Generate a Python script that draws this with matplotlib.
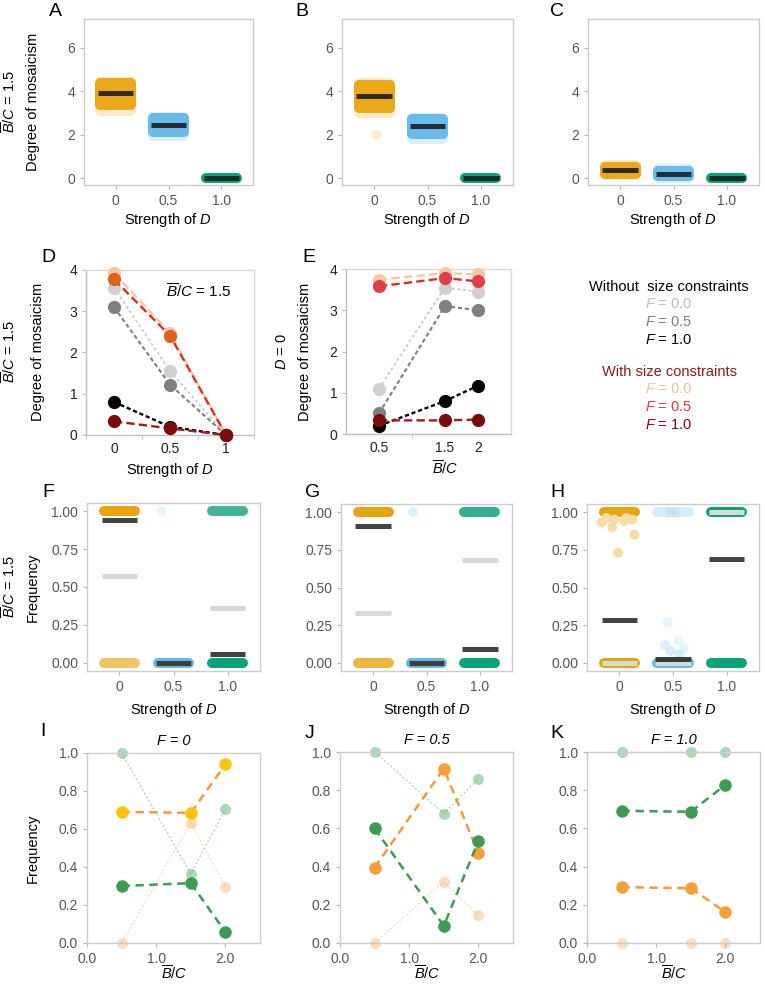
import matplotlib
matplotlib.use('Agg')
import matplotlib.pyplot as plt
from matplotlib.patches import Rectangle
from matplotlib.colors import to_rgb

plt.rcParams['font.family'] = ['Liberation Sans', 'DejaVu Sans']
plt.rcParams['mathtext.fontset'] = 'custom'
plt.rcParams['mathtext.rm'] = 'Liberation Sans'
plt.rcParams['mathtext.it'] = 'Liberation Sans:italic'
plt.rcParams['lines.scale_dashes'] = False

W, H, DPI = 765, 985, 100

# ---------------- data ----------------
d_labels = ['0', '0.5', '1.0']
cat_colors = ['#E69F00', '#56B4E9', '#009E73']

# A-C: degree of mosaicism clouds (per strength of D)
A_mid = [3.9, 2.45, 0.0]
A_lo = [3.35, 2.12, 0.0]
A_hi = [4.37, 2.75, 0.0]
A_flo = [3.1, 1.92, 0.0]
A_fhi = [4.42, 2.8, 0.0]

B_mid = [3.78, 2.4, 0.0]
B_lo = [3.25, 2.05, 0.0]
B_hi = [4.3, 2.72, 0.0]
B_flo = [3.0, 1.8, 0.0]
B_fhi = [4.36, 2.77, 0.0]
B_out_cat = [0]
B_out_val = [2.0]

C_mid = [0.35, 0.2, 0.0]
C_lo = [0.2, 0.08, 0.0]
C_hi = [0.52, 0.32, 0.0]
C_flo = [0.14, 0.02, 0.0]
C_fhi = [0.6, 0.42, 0.0]

# D: mosaicism vs strength of D (B/C = 1.5)
D_x = [0, 0.5, 1]
D_nw0 = [3.57, 1.55, 0.0]
D_nw5 = [3.1, 1.22, 0.0]
D_nw1 = [0.8, 0.2, 0.0]
D_w0 = [3.93, 2.47, 0.0]
D_w5 = [3.77, 2.41, 0.0]
D_w1 = [0.33, 0.16, 0.0]

# E: mosaicism vs B/C (D = 0)
E_x = [0.5, 1.5, 2.0]
E_nw0 = [1.1, 3.55, 3.45]
E_nw5 = [0.5, 3.1, 3.0]
E_nw1 = [0.2, 0.8, 1.17]
E_w0 = [3.74, 3.9, 3.87]
E_w5 = [3.58, 3.78, 3.7]
E_w1 = [0.33, 0.33, 0.35]

# F-H: frequency strips (category, value, intensity)
F_strip_cat = [0, 0, 1, 2, 2]
F_strip_val = [1.0, 0.0, 0.0, 1.0, 0.0]
F_strip_int = [0.95, 0.6, 0.95, 0.75, 0.95]
F_dot_cat = [1]
F_dot_val = [1.0]
F_light = [0.57, 0.0, 0.36]
F_dark = [0.94, 0.0, 0.06]

G_strip_cat = [0, 0, 1, 2, 2]
G_strip_val = [1.0, 0.0, 0.0, 1.0, 0.0]
G_strip_int = [0.95, 0.75, 0.95, 0.8, 0.95]
G_dot_cat = [1]
G_dot_val = [1.0]
G_light = [0.33, 0.0, 0.68]
G_dark = [0.91, 0.0, 0.09]

H_strip_cat = [0, 0, 1, 1, 2, 2]
H_strip_val = [1.0, 0.0, 1.0, 0.0, 1.0, 0.0]
H_strip_int = [0.95, 0.95, 0.25, 0.95, 0.95, 0.95]
H_dot_cat = [0, 0, 0, 0, 0, 0, 0, 0, 0, 1, 1, 1, 1, 1, 1, 1, 1]
H_dot_val = [0.93, 0.96, 0.90, 0.95, 0.94, 0.96, 0.95, 0.85, 0.73,
             1.0, 1.0, 0.27, 0.15, 0.12, 0.10, 0.08, 0.06]
H_light = [0.0, 0.0, 1.0]
H_dark = [0.283, 0.025, 0.687]

# I-K: frequencies vs B/C
bc = [0.5, 1.5, 2.0]
I_orange = [0.69, 0.685, 0.94]
I_green = [0.30, 0.315, 0.058]
I_lgreen = [1.0, 0.364, 0.705]
I_lorange = [0.0, 0.633, 0.297]

J_orange = [0.395, 0.913, 0.47]
J_green = [0.60, 0.09, 0.534]
J_lgreen = [1.0, 0.678, 0.86]
J_lorange = [0.0, 0.32, 0.144]

K_orange = [0.292, 0.287, 0.162]
K_green = [0.692, 0.687, 0.828]
K_lgreen = [1.0, 1.0, 1.0]
K_lorange = [0.0, 0.0, 0.0]

# ---------------- layout offsets (jitter positions) ----------------
B_out_off = [0.05]
F_dot_off = [-0.22]
G_dot_off = [-0.25]
H_dot_off = [-0.33, -0.24, -0.13, -0.09, 0.09, 0.13, 0.24, 0.28, -0.02,
             -0.05, 0.03, -0.1, 0.1, -0.15, 0.2, -0.05, 0.12]
H_dot_int = [0.35] * 9 + [0.35, 0.35, 0.15, 0.15, 0.2, 0.15, 0.25, 0.25]


def mix(c, a):
    r = to_rgb(c)
    return tuple(1 - (1 - v) * a for v in r)


def px(n):
    return n * 72.0 / DPI


fig = plt.figure(figsize=(W / DPI, H / DPI), dpi=DPI)


def axrect(x0, y0, x1, y1):
    return fig.add_axes([x0 / W, 1 - y1 / H, (x1 - x0) / W, (y1 - y0) / H])


def ftext(x, y, s, **kw):
    kw.setdefault('ha', 'center')
    kw.setdefault('va', 'center')
    fig.text(x / W, 1 - y / H, s, **kw)


def style_gg(ax):
    for s in ax.spines.values():
        s.set_color('#cccccc')
        s.set_linewidth(1.0)
    ax.tick_params(colors='#b5b5b5', labelcolor='#555555', length=px(4),
                   width=0.8, labelsize=10, pad=3.5)


def xunit_px(ax):
    x0, x1 = ax.get_xlim()
    return ax.get_position().width * W / (x1 - x0)


def band(ax, x, lo, hi, color, strength, halfw=0.29, size_px=10, z=2):
    c = mix(color, strength)
    lw = px(size_px)
    r = (size_px / 2.0) / xunit_px(ax)
    ax.plot([x - halfw, x + halfw], [lo, lo], color=c, lw=lw,
            solid_capstyle='round', zorder=z)
    if hi > lo:
        ax.plot([x - halfw, x + halfw], [hi, hi], color=c, lw=lw,
                solid_capstyle='round', zorder=z)
        ax.add_patch(Rectangle((x - halfw - r, lo), 2 * (halfw + r), hi - lo,
                               facecolor=c, edgecolor='none', zorder=z))


def hbar(ax, x, y, color, halfw=0.34, th_px=5, alpha=1.0, z=5):
    ax.plot([x - halfw, x + halfw], [y, y], color=color, lw=px(th_px),
            solid_capstyle='butt', alpha=alpha, zorder=z)


# ---------------- A-C ----------------
def cloud_panel(rect, mid, lo, hi, flo, fhi, outc=None, outv=None, outo=None):
    ax = axrect(*rect)
    style_gg(ax)
    ax.set_xlim(-0.6, 2.6)
    ax.set_ylim(-0.32, 7.33)
    for i in range(3):
        band(ax, i, flo[i], fhi[i], cat_colors[i], 0.22, z=2)
        band(ax, i, lo[i], hi[i], cat_colors[i], 0.9 if i < 2 else 0.95, z=3)
        hbar(ax, i, mid[i], '#1a1a1a', halfw=0.33, th_px=5, alpha=0.88)
    if outc:
        for c, v, o in zip(outc, outv, outo):
            ax.scatter([c + o], [v], s=px(10) ** 2, color=mix(cat_colors[c], 0.2),
                       edgecolor='none', zorder=2)
    ax.set_yticks([0, 2, 4, 6])
    ax.set_xticks([0, 1, 2])
    ax.set_xticklabels(d_labels)
    return ax


axA = cloud_panel((84, 19, 253, 185), A_mid, A_lo, A_hi, A_flo, A_fhi)
axB = cloud_panel((342, 19, 513, 185), B_mid, B_lo, B_hi, B_flo, B_fhi,
                  B_out_cat, B_out_val, B_out_off)
axC = cloud_panel((588, 19, 759, 185), C_mid, C_lo, C_hi, C_flo, C_fhi)
for x0 in (168, 427, 673):
    ftext(x0, 220, 'Strength of $D$', fontsize=10.5)

ftext(33, 102, 'Degree of mosaicism', rotation=90, fontsize=10.5)
ftext(10, 102, r'$\overline{B}/C$ = 1.5', rotation=90, fontsize=10.5)

# ---------------- D & E ----------------
series_style = {
    'nw0': dict(color='#c8c8c8', mc='#d0d0d0', dashes=(2, 2), lw=1.3),
    'nw5': dict(color='#7f7f7f', mc='#808080', dashes=(3, 2), lw=1.5),
    'nw1': dict(color='#000000', mc='#000000', dashes=(3, 2), lw=1.7),
    'w0': dict(color='#f9c8a2', mc='#f9c8a2', dashes=(6, 3), lw=1.7),
    'w5': dict(color='#e02a2a', mc='#e0404a', dashes=(6, 3), lw=1.7),
    'w1': dict(color='#a01c1c', mc='#7b0a0a', dashes=(6, 3), lw=1.7),
}


def style_xl(ax):
    for s in ax.spines.values():
        s.set_color('#d9d9d9')
        s.set_linewidth(1.0)
    ax.spines['left'].set_color('#bfbfbf')
    ax.spines['bottom'].set_color('#bfbfbf')
    ax.tick_params(colors='#bfbfbf', labelcolor='#222222', length=px(4),
                   width=0.8, labelsize=10)


def line_panel(ax, x, data, mcolors=None):
    for key in ['w0', 'nw0', 'nw5', 'nw1', 'w5', 'w1']:
        st = series_style[key]
        mc = st['mc'] if not mcolors or key not in mcolors else mcolors[key]
        ax.plot(x, data[key], color=st['color'], lw=st['lw'], dashes=st['dashes'],
                marker='o', ms=8.5, mfc=mc, mec=mc, zorder=3, clip_on=False)


axD = axrect(86, 270, 254, 435)
style_xl(axD)
line_panel(axD, D_x, dict(nw0=D_nw0, nw5=D_nw5, nw1=D_nw1, w0=D_w0, w5=D_w5, w1=D_w1),
           mcolors={'w5': '#d8641e'})
axD.set_xlim(-0.25, 1.25)
axD.set_ylim(0, 4)
axD.set_yticks([0, 1, 2, 3, 4])
axD.set_xticks([0, 0.5, 1])
axD.set_xticklabels(['0', '0.5', '1'])
axD.set_xticks([-0.25, 0.25, 0.75, 1.25], minor=True)
axD.tick_params(axis='x', which='major', length=0, pad=5)
axD.tick_params(axis='x', which='minor', length=px(4), color='#bfbfbf')
axD.text(0.67, 0.87, r'$\overline{B}/C$ = 1.5', transform=axD.transAxes,
         fontsize=11, ha='center', va='center')
ftext(170, 470, 'Strength of $D$', fontsize=10.5)
ftext(38, 352, 'Degree of mosaicism', rotation=90, fontsize=10.5)
ftext(10, 352, r'$\overline{B}/C$ = 1.5', rotation=90, fontsize=10.5)

axE = axrect(346, 269, 511, 434)
style_xl(axE)
line_panel(axE, E_x, dict(nw0=E_nw0, nw5=E_nw5, nw1=E_nw1, w0=E_w0, w5=E_w5, w1=E_w1))
axE.set_xlim(0, 2.5)
axE.set_ylim(0, 4)
axE.set_yticks([0, 1, 2, 3, 4])
axE.set_xticks([0.5, 1.5, 2.0])
axE.set_xticklabels(['0.5', '1.5', '2'])
axE.set_xticks([1.0], minor=True)
axE.tick_params(axis='x', which='major', length=0, pad=5)
axE.tick_params(axis='x', which='minor', length=px(4), color='#bfbfbf')
ftext(445, 469, r'$\overline{B}/C$', fontsize=10.5)
ftext(305, 352, 'Degree of mosaicism', rotation=90, fontsize=10.5)
ftext(282, 352, '$D$ = 0', rotation=90, fontsize=10.5)

# legend
leg_items = [
    ('Without  size constraints', '#000000', 287),
    ('$F$ = 0.0', '#bdbdbd', 304),
    ('$F$ = 0.5', '#7f7f7f', 322),
    ('$F$ = 1.0', '#000000', 340),
    ('With size constraints', '#8b1a1a', 372),
    ('$F$ = 0.0', '#f8c19b', 389),
    ('$F$ = 0.5', '#e8363a', 407),
    ('$F$ = 1.0', '#8b0000', 425),
]
for s, c, y in leg_items:
    ftext(669, y, s, color=c, fontsize=10.5)


# ---------------- F-H ----------------
def freq_panel(rect, scat, sval, sint, dcat, dval, doff, dint, light, dark):
    ax = axrect(*rect)
    style_gg(ax)
    ax.set_xlim(-0.6, 2.6)
    ax.set_ylim(-0.053, 1.053)
    for c, v, k in zip(scat, sval, sint):
        band(ax, c, v, v, cat_colors[c], k, z=2)
    for c, v, o, k in zip(dcat, dval, doff, dint):
        ax.scatter([c + o], [v], s=px(10) ** 2, color=mix(cat_colors[c], k),
                   edgecolor='none', zorder=2.5)
    for i in range(3):
        hbar(ax, i, light[i], '#d9d9d9', halfw=0.33, th_px=5, z=4)
    for i in range(3):
        hbar(ax, i, dark[i], '#2e2e2e', halfw=0.33, th_px=5, alpha=0.9, z=5)
    ax.set_yticks([0, 0.25, 0.5, 0.75, 1.0])
    ax.set_yticklabels(['0.00', '0.25', '0.50', '0.75', '1.00'])
    ax.set_xticks([0, 1, 2])
    ax.set_xticklabels(d_labels)
    return ax


axF = freq_panel((87, 503, 260, 671), F_strip_cat, F_strip_val, F_strip_int,
                 F_dot_cat, F_dot_val, F_dot_off, [0.15], F_light, F_dark)
axG = freq_panel((341, 504, 512, 671), G_strip_cat, G_strip_val, G_strip_int,
                 G_dot_cat, G_dot_val, G_dot_off, [0.2], G_light, G_dark)
axH = freq_panel((587, 504, 759, 671), H_strip_cat, H_strip_val, H_strip_int,
                 H_dot_cat, H_dot_val, H_dot_off, H_dot_int, H_light, H_dark)
for x0 in (174, 427, 673):
    ftext(x0, 710, 'Strength of $D$', fontsize=10.5)
ftext(33, 587, 'Frequency', rotation=90, fontsize=10.5)
ftext(10, 587, r'$\overline{B}/C$ = 1.5', rotation=90, fontsize=10.5)


# ---------------- I-K ----------------
def bc_panel(rect, orange, green, lgreen, lorange, title, omc):
    ax = axrect(*rect)
    style_gg(ax)
    ax.plot(bc, lgreen, color='#3d9c52', alpha=0.4, lw=1.0, dashes=(1.5, 1.5),
            marker='o', ms=8, mec='none', zorder=2, clip_on=False)
    ax.plot(bc, lorange, color='#f5a04a', alpha=0.35, lw=1.0, dashes=(1.5, 1.5),
            marker='o', ms=8, mec='none', zorder=2, clip_on=False)
    ax.plot(bc, orange, color='#f39a3a', lw=1.8, dashes=(6, 4), marker='o', ms=8,
            mfc=omc, mec=omc, zorder=3, clip_on=False)
    ax.plot(bc, green, color='#3d9c52', lw=1.8, dashes=(6, 4), marker='o', ms=8,
            mfc='#3d9c52', mec='#3d9c52', zorder=3, clip_on=False)
    ax.set_xlim(0, 2.5)
    ax.set_ylim(0, 1)
    ax.set_xticks([0, 1, 2])
    ax.set_xticklabels(['0.0', '1.0', '2.0'])
    ax.set_yticks([0, 0.2, 0.4, 0.6, 0.8, 1.0])
    ax.set_yticklabels(['0.0', '0.2', '0.4', '0.6', '0.8', '1.0'])
    ax.set_title(title, fontsize=10.5, style='italic', pad=6)
    return ax


axI = bc_panel((87, 753, 260, 943), I_orange, I_green, I_lgreen, I_lorange,
               'F = 0', '#ffc20e')
axJ = bc_panel((340, 752, 513, 943), J_orange, J_green, J_lgreen, J_lorange,
               'F = 0.5', '#f7a03a')
axK = bc_panel((587, 752, 760, 943), K_orange, K_green, K_lgreen, K_lorange,
               'F = 1.0', '#f7a03a')
for x0 in (174, 427, 674):
    ftext(x0, 974, r'$\overline{B}/C$', fontsize=10.5)
ftext(33, 848, 'Frequency', rotation=90, fontsize=10.5)

# panel letters
letters = [('A', 55, 12), ('B', 302, 12), ('C', 557, 12),
           ('D', 48, 257), ('E', 309, 257),
           ('F', 48, 492), ('G', 313, 492), ('H', 557, 492),
           ('I', 43, 732), ('J', 310, 733), ('K', 557, 733)]
for s, x, y in letters:
    ftext(x, y, s, fontsize=14)

fig.savefig('out.png', dpi=DPI)
